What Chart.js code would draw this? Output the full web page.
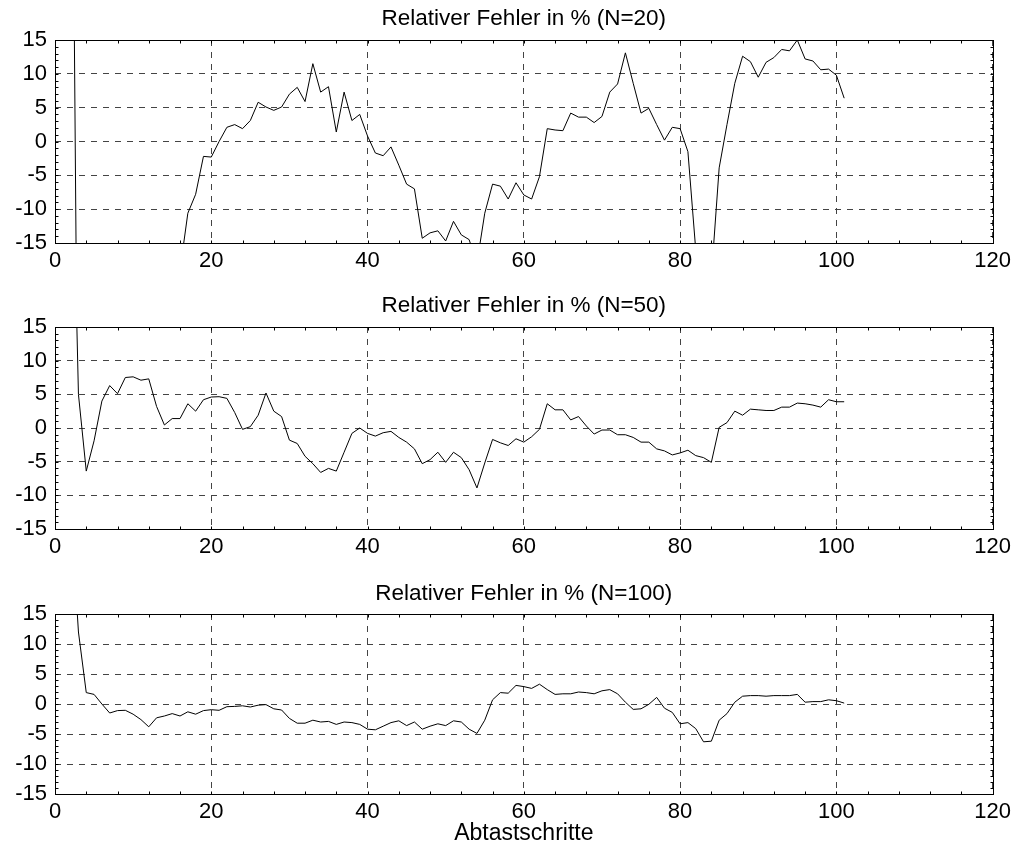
<!DOCTYPE html>
<html>
<head>
<meta charset="utf-8">
<title>Relativer Fehler</title>
<script src="https://cdn.jsdelivr.net/npm/chart.js@4.4.1/dist/chart.umd.min.js"></script>
<style>
  html, body { margin: 0; padding: 0; background: #fff; overflow: hidden; }
  #wrap { position: relative; width: 1016px; height: 843px; }
  #wrap canvas { position: absolute; left: 0; }
</style>
</head>
<body>
<div id="wrap">
  <canvas id="chartN20" width="1016" height="283" style="top:0px"></canvas>
  <canvas id="chartN50" width="1016" height="287" style="top:283px"></canvas>
  <canvas id="chartN100" width="1016" height="273" style="top:570px"></canvas>
</div>
<script>
// sample index (Abtastschritt)
const steps = [
  2, 3, 4, 5, 6, 7, 8, 9, 10, 11, 12, 13, 14, 15, 16, 17, 18, 19, 20, 21,
  22, 23, 24, 25, 26, 27, 28, 29, 30, 31, 32, 33, 34, 35, 36, 37, 38, 39, 40, 41,
  42, 43, 44, 45, 46, 47, 48, 49, 50, 51, 52, 53, 54, 55, 56, 57, 58, 59, 60, 61,
  62, 63, 64, 65, 66, 67, 68, 69, 70, 71, 72, 73, 74, 75, 76, 77, 78, 79, 80, 81,
  82, 83, 84, 85, 86, 87, 88, 89, 90, 91, 92, 93, 94, 95, 96, 97, 98, 99, 100, 101
];

// relative error in %, window length N=20
const errN20 = [
  84, -59, -52, -46, -41, -37, -34, -31, -29, -27, -25, -23, -22, -20, -19, -10.6, -7.8, -2.2, -2.3, 0.0,
  2.1, 2.5, 1.9, 3.1, 5.8, 5.1, 4.6, 5.1, 7.0, 8.0, 5.9, 11.5, 7.3, 8.1, 1.4, 7.3, 3.1, 4.0, 0.8, -1.7,
  -2.1, -0.8, -3.5, -6.3, -7.0, -14.3, -13.5, -13.2, -14.7, -11.8, -13.8, -14.5, -18, -10.6, -6.3, -6.6, -8.5, -6.1, -7.9, -8.5,
  -5.2, 1.9, 1.7, 1.6, 4.2, 3.6, 3.6, 2.8, 3.7, 7.3, 8.5, 13.1, 8.6, 4.2, 4.9, 2.5, 0.2, 2.1, 1.9, -1.5,
  -16, -25, -20, -3.9, 2.5, 8.6, 12.6, 11.8, 9.5, 11.7, 12.4, 13.6, 13.4, 15.0, 12.2, 11.9, 10.6, 10.7, 9.8, 6.4
];

// N=50
const errN50 = [
  55, 5.0, -6.4, -1.9, 4.0, 6.3, 5.1, 7.5, 7.6, 7.1, 7.3, 3.2, 0.45, 1.4, 1.4, 3.6, 2.5, 4.2, 4.6, 4.65,
  4.4, 2.3, -0.2, 0.2, 1.9, 5.2, 2.5, 1.7, -1.8, -2.3, -4.2, -5.3, -6.6, -6.0, -6.4, -3.6, -0.8, 0.0, -0.8, -1.2,
  -0.7, -0.5, -1.4, -2.1, -3.1, -5.3, -4.7, -3.6, -5.1, -3.6, -4.4, -6.2, -8.9, -5.2, -1.7, -2.2, -2.6, -1.6, -2.1, -1.3,
  -0.2, 3.6, 2.7, 2.7, 1.2, 1.7, 0.3, -0.9, -0.3, -0.3, -1.0, -1.0, -1.4, -2.1, -2.1, -3.1, -3.4, -4.0, -3.7, -3.3,
  -4.1, -4.4, -5.1, 0.1, 0.8, 2.5, 1.9, 2.8, 2.7, 2.6, 2.6, 3.1, 3.1, 3.7, 3.6, 3.4, 3.1, 4.2, 3.9, 3.9
];

// N=100
const errN100 = [
  33, 12.0, 1.9, 1.6, 0.0, -1.5, -1.1, -1.05, -1.7, -2.6, -3.8, -2.3, -2.0, -1.6, -2.0, -1.3, -1.7, -1.1, -0.95, -1.05,
  -0.45, -0.4, -0.3, -0.5, -0.2, -0.1, -0.8, -1.0, -2.4, -3.2, -3.2, -2.7, -3.0, -2.9, -3.4, -3.0, -3.1, -3.4, -4.2, -4.3,
  -3.7, -3.1, -2.8, -3.6, -3.0, -4.2, -3.7, -3.3, -3.6, -2.8, -3.0, -4.2, -4.9, -2.7, 0.7, 1.9, 1.8, 3.1, 2.9, 2.6,
  3.3, 2.4, 1.6, 1.7, 1.7, 2.0, 1.9, 1.7, 2.2, 2.4, 1.7, 0.3, -0.9, -0.8, -0.05, 1.1, -0.7, -1.4, -3.3, -3.1,
  -4.1, -6.3, -6.2, -2.7, -1.6, 0.3, 1.3, 1.4, 1.4, 1.3, 1.4, 1.4, 1.4, 1.6, 0.3, 0.4, 0.4, 0.7, 0.55, 0.15
];

const panelTitles = [
  'Relativer Fehler in % (N=20)',
  'Relativer Fehler in % (N=50)',
  'Relativer Fehler in % (N=100)'
];
const xLabel = 'Abtastschritte';

// labelled ticks; the other ticks only get a small mark
const xTickLabels = [0, 20, 40, 60, 80, 100, 120];
const yTickLabels = [-15, -10, -5, 0, 5, 10, 15];

const FONT = "'Liberation Sans', Arial, sans-serif";

// closed box around the plot area with short inward tick marks
const frameTicks = {
  id: 'frameTicks',
  afterDraw(chart) {
    const { ctx, chartArea: a, scales } = chart;
    const L = Math.round(a.left) + 0.5, R = Math.round(a.right) + 0.5;
    const T = Math.round(a.top) + 0.5, B = Math.round(a.bottom) + 0.5;
    ctx.save();
    ctx.strokeStyle = '#000';
    ctx.lineWidth = 1;
    ctx.beginPath();
    scales.x.ticks.forEach(t => {
      const px = Math.round(scales.x.getPixelForValue(t.value)) + 0.5;
      ctx.moveTo(px, T); ctx.lineTo(px, T + 3);
      ctx.moveTo(px, B); ctx.lineTo(px, B - 3);
    });
    scales.y.ticks.forEach(t => {
      const py = Math.round(scales.y.getPixelForValue(t.value)) + 0.5;
      ctx.moveTo(L, py); ctx.lineTo(L + 3, py);
      ctx.moveTo(R, py); ctx.lineTo(R - 3, py);
    });
    ctx.stroke();
    ctx.strokeRect(L, T, R - L, B - T);
    ctx.restore();
  }
};

function makePanel(id, title, values, cfg) {
  const points = steps.map((s, i) => ({ x: s, y: values[i] }));
  return new Chart(document.getElementById(id), {
    type: 'line',
    data: {
      datasets: [{
        data: points,
        borderColor: '#000',
        borderWidth: 1,
        pointRadius: 0,
        fill: false,
        tension: 0
      }]
    },
    plugins: [frameTicks],
    options: {
      responsive: false,
      animation: false,
      devicePixelRatio: 1,
      events: [],
      layout: { padding: { left: 0, right: 23, top: 0, bottom: 0 } },
      plugins: {
        legend: { display: false },
        tooltip: { enabled: false },
        title: {
          display: true,
          fullSize: false,   // centre over the plot area
          text: title,
          color: '#000',
          font: { family: FONT, size: 22.5, weight: 'normal' },
          padding: cfg.titlePad
        }
      },
      scales: {
        x: {
          type: 'linear',
          min: 0,
          max: 120,
          afterFit: s => { s.height = cfg.xAxisH; },
          ticks: {
            stepSize: 4,
            autoSkip: false,
            maxRotation: 0,
            padding: 5,
            color: '#000',
            font: { family: FONT, size: 22 },
            callback: v => xTickLabels.includes(v) ? String(v) : ''
          },
          grid: {
            drawTicks: false,
            color: '#444',
            lineWidth: c => (c.tick && xTickLabels.includes(c.tick.value)) ? 1 : 0
          },
          border: { display: false, dash: [6, 6] },
          title: {
            display: cfg.showXLabel,
            text: xLabel,
            color: '#000',
            font: { family: FONT, size: 23 },
            padding: { top: 0, bottom: -4 }
          }
        },
        y: {
          min: -15,
          max: 15,
          afterFit: s => { s.width = 55; },
          ticks: {
            stepSize: 1,
            autoSkip: false,
            padding: 8,
            color: '#000',
            font: { family: FONT, size: 22 },
            callback: v => yTickLabels.includes(v) ? String(v) : ''
          },
          grid: {
            drawTicks: false,
            color: '#444',
            lineWidth: c => (c.tick && yTickLabels.includes(c.tick.value)) ? 1 : 0
          },
          border: { display: false, dash: [6, 6] }
        }
      }
    }
  });
}

makePanel('chartN20', panelTitles[0], errN20, { titlePad: { top: 5.5, bottom: 7.5 }, xAxisH: 40, showXLabel: false });
makePanel('chartN50', panelTitles[1], errN50, { titlePad: { top: 9.5, bottom: 7.5 }, xAxisH: 41, showXLabel: false });
makePanel('chartN100', panelTitles[2], errN100, { titlePad: { top: 10.5, bottom: 6.5 }, xAxisH: 49, showXLabel: true });
</script>
</body>
</html>
